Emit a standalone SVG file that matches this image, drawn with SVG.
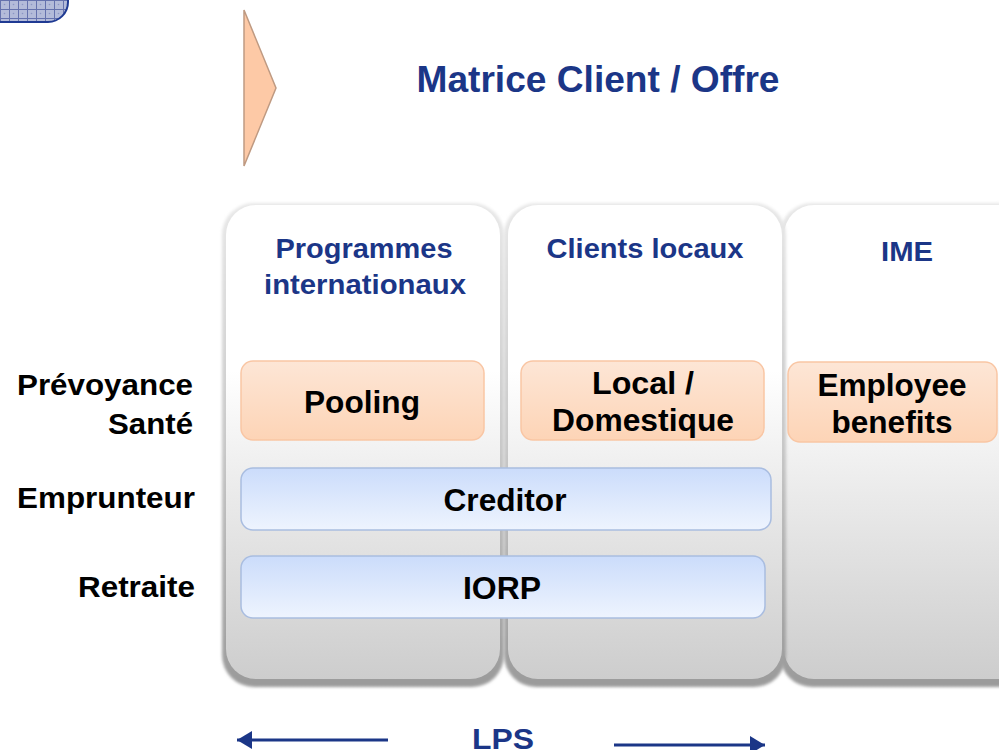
<svg xmlns="http://www.w3.org/2000/svg" width="999" height="750" viewBox="0 0 999 750">
<defs>
<pattern id="grid" width="9" height="9" patternUnits="userSpaceOnUse">
<rect width="9" height="9" fill="#b3bbd9"/>
<path d="M0 0.5H9M0.5 0V9" stroke="#6572ad" stroke-width="1"/>
<circle cx="4.5" cy="4.5" r="0.8" fill="#8c96c4"/>
</pattern>
<linearGradient id="colFill" x1="0" y1="0" x2="0" y2="1">
<stop offset="0" stop-color="#ffffff"/>
<stop offset="0.35" stop-color="#ffffff"/>
<stop offset="0.55" stop-color="#efefef"/>
<stop offset="1" stop-color="#cdcdcd"/>
</linearGradient>
<linearGradient id="colEdge" x1="0" y1="0" x2="0" y2="1">
<stop offset="0" stop-color="#e8e8e8"/>
<stop offset="0.5" stop-color="#c8c8c8"/>
<stop offset="1" stop-color="#9a9a9a"/>
</linearGradient>
<linearGradient id="peach" x1="0" y1="0" x2="0" y2="1">
<stop offset="0" stop-color="#fde6d6"/>
<stop offset="1" stop-color="#fdd4b6"/>
</linearGradient>
<linearGradient id="blue" x1="0" y1="0" x2="0" y2="1">
<stop offset="0" stop-color="#cbdcfb"/>
<stop offset="1" stop-color="#eef4fe"/>
</linearGradient>
<filter id="soft" x="-5%" y="-5%" width="110%" height="110%">
<feGaussianBlur stdDeviation="1.5"/>
</filter>
<marker id="ah" viewBox="0 0 10 12" refX="10" refY="6" markerWidth="5" markerHeight="6" orient="auto-start-reverse" markerUnits="strokeWidth">
<path d="M0 0L10 6L0 12Z" fill="#1b3687"/>
</marker>
<style>
text{font-family:"Liberation Sans",Arial,sans-serif;font-weight:bold}
.hdr{font-size:28px;fill:#1b3687;text-anchor:middle}
.row{font-size:29px;fill:#000;text-anchor:end}
.box{font-size:31px;fill:#000;text-anchor:middle}
.title{font-size:36px;fill:#1b3687;text-anchor:middle}
.lps{font-size:30px;fill:#1b3687;text-anchor:middle}
.colEdge{fill:url(#colEdge)}
.col{fill:url(#colFill)}
.pbox{fill:url(#peach);stroke:#f9c6a4;stroke-width:1.5}
.bbox{fill:url(#blue);stroke:#a9bde0;stroke-width:1.5}
.arrow{stroke:#1b3687;stroke-width:3;fill:none}
</style>
</defs>
<rect width="999" height="750" fill="#ffffff"/>
<g id="corner">
<rect x="-40" y="-40" width="108" height="62" rx="20" fill="url(#grid)" stroke="#1f3a93" stroke-width="2"/>
</g>
<g id="chevron">
<polygon points="244,10 276,88 244,166" fill="#fdc9a6" stroke="#bf9a82" stroke-width="1.5"/>
</g>
<text class="title" x="598" y="92" textLength="363" lengthAdjust="spacingAndGlyphs">Matrice Client / Offre</text>
<g id="col-ime">
<rect class="colEdge" x="780" y="203" width="250" height="484" rx="32" filter="url(#soft)"/>
<rect class="col" x="784" y="205" width="246" height="474" rx="30"/>
<text class="hdr" x="907" y="261" textLength="52" lengthAdjust="spacingAndGlyphs">IME</text>
</g>
<g id="col-locaux">
<rect class="colEdge" x="504" y="203" width="282" height="484" rx="32" filter="url(#soft)"/>
<rect class="col" x="508" y="205" width="274" height="474" rx="30"/>
<text class="hdr" x="645" y="258" textLength="197" lengthAdjust="spacingAndGlyphs">Clients locaux</text>
</g>
<g id="col-intl">
<rect class="colEdge" x="222" y="203" width="282" height="484" rx="32" filter="url(#soft)"/>
<rect class="col" x="226" y="205" width="274" height="474" rx="30"/>
<text class="hdr" x="364" y="258" textLength="177" lengthAdjust="spacingAndGlyphs">Programmes</text>
<text class="hdr" x="365" y="294" textLength="202" lengthAdjust="spacingAndGlyphs">internationaux</text>
</g>
<g id="row-labels">
<text class="row" x="193" y="395" textLength="176" lengthAdjust="spacingAndGlyphs">Prévoyance</text>
<text class="row" x="193" y="434" textLength="85" lengthAdjust="spacingAndGlyphs">Santé</text>
<text class="row" x="195" y="508" textLength="178" lengthAdjust="spacingAndGlyphs">Emprunteur</text>
<text class="row" x="195" y="597" textLength="117" lengthAdjust="spacingAndGlyphs">Retraite</text>
</g>
<g id="pooling">
<rect class="pbox" x="241" y="361" width="243" height="79" rx="12"/>
<text class="box" x="362" y="413" textLength="116" lengthAdjust="spacingAndGlyphs">Pooling</text>
</g>
<g id="local">
<rect class="pbox" x="521" y="361" width="243" height="79" rx="12"/>
<text class="box" x="643" y="394" textLength="102" lengthAdjust="spacingAndGlyphs">Local /</text>
<text class="box" x="643" y="431" textLength="182" lengthAdjust="spacingAndGlyphs">Domestique</text>
</g>
<g id="employee">
<rect class="pbox" x="788" y="362" width="209" height="80" rx="12"/>
<text class="box" x="892" y="396" textLength="149" lengthAdjust="spacingAndGlyphs">Employee</text>
<text class="box" x="892" y="433" textLength="121" lengthAdjust="spacingAndGlyphs">benefits</text>
</g>
<g id="creditor">
<rect class="bbox" x="241" y="468" width="530" height="62" rx="12"/>
<text class="box" x="505" y="511" textLength="123" lengthAdjust="spacingAndGlyphs">Creditor</text>
</g>
<g id="iorp">
<rect class="bbox" x="241" y="556" width="524" height="62" rx="12"/>
<text class="box" x="502" y="599" textLength="78" lengthAdjust="spacingAndGlyphs">IORP</text>
</g>
<g id="connectors">
<line class="arrow" x1="388" y1="740" x2="237" y2="740" marker-end="url(#ah)"/>
<line class="arrow" x1="614" y1="745" x2="765" y2="745" marker-end="url(#ah)"/>
</g>
<text class="lps" x="503" y="749" textLength="62" lengthAdjust="spacingAndGlyphs">LPS</text>
</svg>
